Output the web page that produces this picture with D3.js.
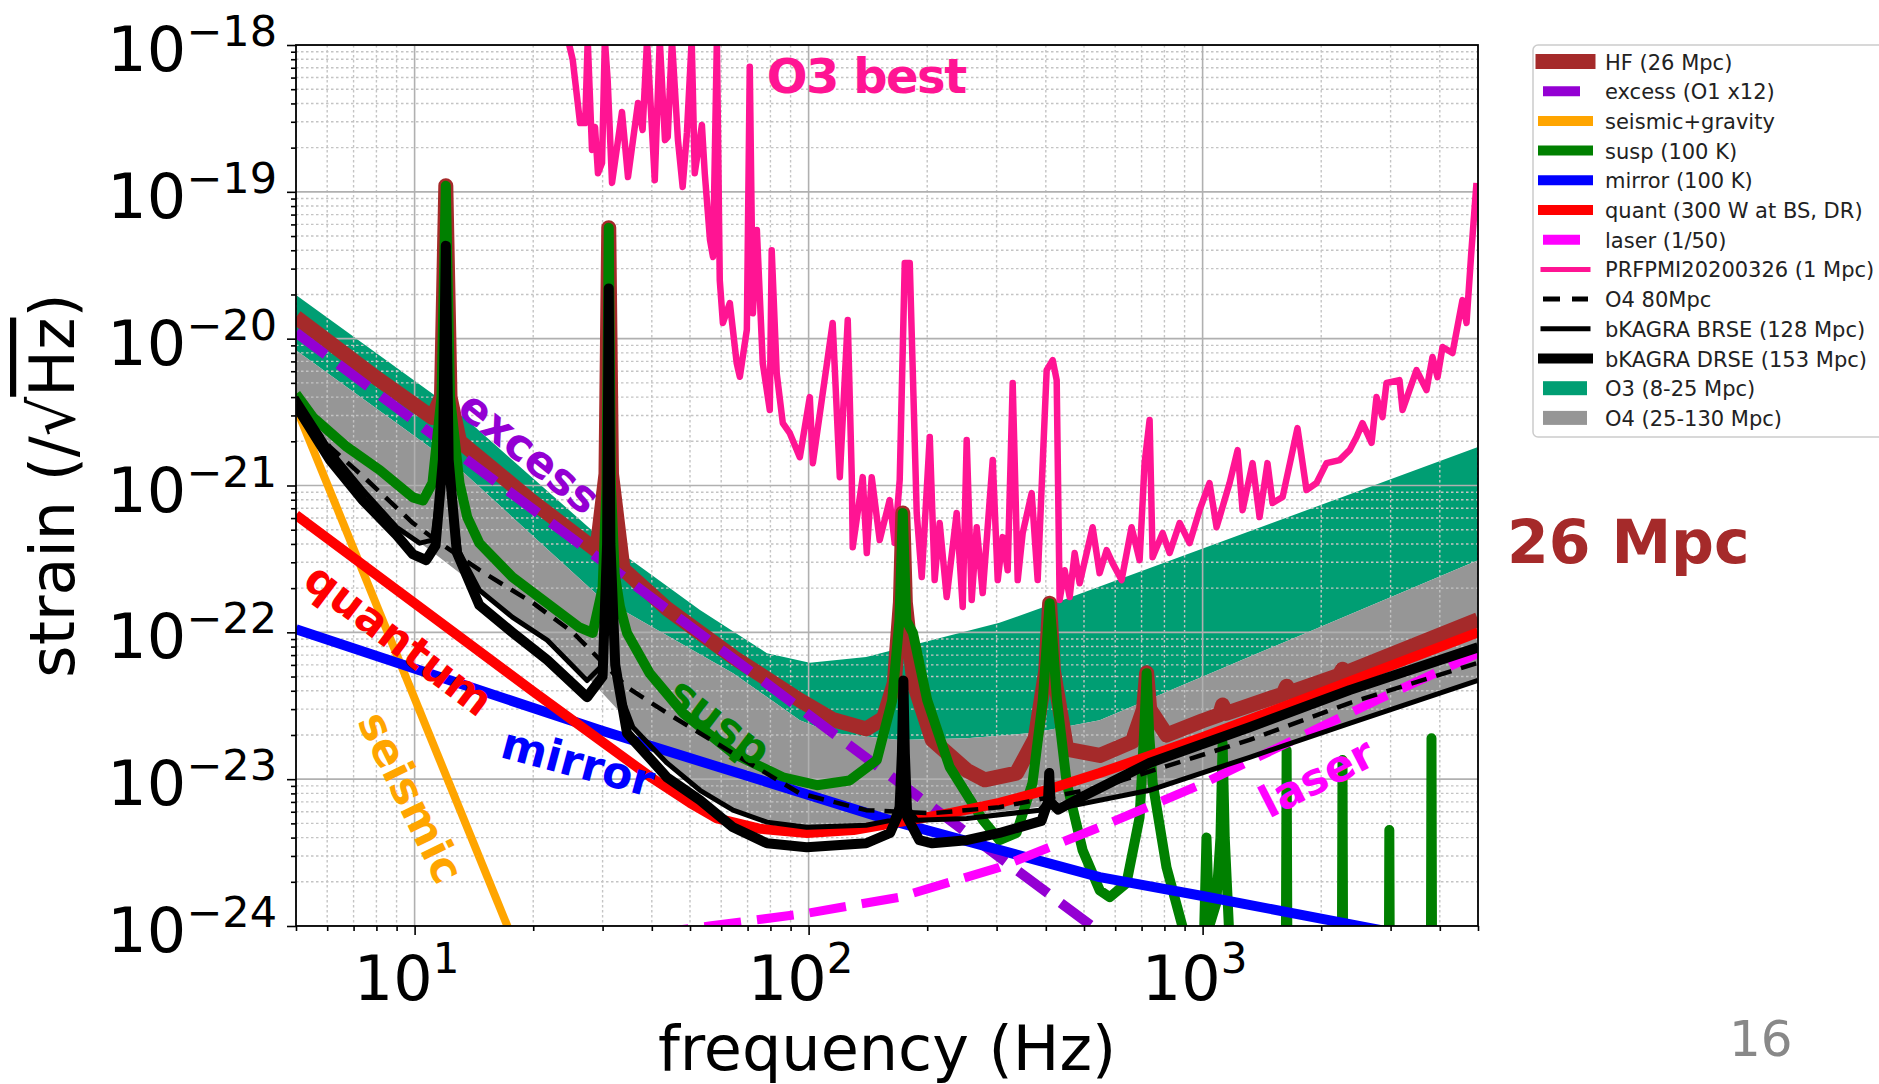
<!DOCTYPE html>
<html>
<head>
<meta charset="utf-8">
<title>bKAGRA noise budget</title>
<script src="https://cdn.jsdelivr.net/npm/d3@7/dist/d3.min.js"></script>
<style>
body { margin: 0; background: white; }
text { font-family: "DejaVu Sans", sans-serif; }
.grid-major { stroke: #b0b0b0; stroke-width: 1.6; }
.grid-minor { stroke: #c4c4c4; stroke-width: 1.4; stroke-dasharray: 2.5,2.5; }
.curve { fill: none; stroke-linejoin: round; }
.axis line { stroke: black; stroke-width: 1.6; }
.curve-label { font-weight: bold; font-size: 44px; }
.legend-text { font-size: 21px; fill: #222; }
</style>
</head>
<body>
<div id="chart"></div>
<script>
// ---- data (frequency in Hz, strain in 1/sqrt(Hz)) ----
const freqTicks = [10, 100, 1000];
const strainTicks = [1e-24, 1e-23, 1e-22, 1e-21, 1e-20, 1e-19, 1e-18];

const hfNoise = [[5,1.4e-20],[8,5.4e-21],[11.1,2.9e-21],[11.7,4e-21],[12.0,1.1e-19],[12.3,4e-21],[13.0,2.0e-21],
  [20,7.7e-22],[29.0,3.6e-22],[30.6,1.2e-21],[31.1,5.7e-20],[31.6,1.2e-21],[33.8,2.7e-22],[43.7,1.45e-22],
  [64.3,6.8e-23],[95,3.45e-23],[115,2.55e-23],[140,2.2e-23],[155,2.6e-23],[165,4.5e-23],[171,1.6e-22],
  [173.4,6.5e-22],[176,1.6e-22],[185,4.5e-23],[206,1.85e-23],[252,1.15e-23],[280,9.9e-24],[337,1.1e-23],
  [376,1.9e-23],[400,5.5e-23],[409,1.58e-22],[418,5.5e-23],[452,1.6e-23],[548,1.45e-23],[663,1.8e-23],
  [708,3e-23],[721,5.3e-23],[734,3e-23],[810,2e-23],[1000,2.5e-23],[1105,2.75e-23],[1124,3.2e-23],
  [1145,2.8e-23],[1600,3.8e-23],[1634,4.3e-23],[1670,3.9e-23],[2220,5.1e-23],[2265,5.6e-23],[2310,5.3e-23],
  [5000,1.22e-22]];

const excessNoise = [[5,1.1e-20],[600,7.6e-25]];

const seismicNoise = [[5,3.4e-21],[18,7.4e-25]];

const suspNoise = [[5,4.2e-21],[5.52,2.92e-21],[6.73,1.83e-21],[8.17,1.27e-21],[9.9,8.3e-22],[10.5,7.9e-22],
  [11.1,1.04e-21],[11.7,4e-21],[12.0,1.1e-19],[12.3,4e-21],[13.0,1.04e-21],[13.6,6.1e-22],[14.6,4.05e-22],
  [17.7,2.38e-22],[21.7,1.58e-22],[26.2,1.08e-22],[28.3,9.9e-23],[30.0,2e-22],[30.7,1e-21],[31.1,5.7e-20],
  [31.5,1e-21],[32.2,2.5e-22],[33.2,1.5e-22],[34.6,9.9e-23],[39.5,5.27e-23],[48,2.82e-23],[64.3,1.5e-23],
  [86,1.03e-23],[105,9.1e-24],[127,9.8e-24],[149,1.35e-23],[163,3.45e-23],[170,1.2e-22],[173.4,6.5e-22],
  [177,1.2e-22],[184,9.9e-23],[200,3.45e-23],[228,1.21e-23],[277,5.26e-24],[305,3.84e-24],[337,4.3e-24],
  [370,9.4e-24],[393,3.45e-23],[403,9e-23],[409,1.58e-22],[416,9e-23],[427,3.45e-23],[452,9.4e-24],
  [496,3.28e-24],[548,1.75e-24],[581,1.57e-24],[641,1.96e-24],[692,5.5e-24],[710,2e-23],[721,5.27e-23],
  [732,2e-23],[747,9.4e-24],[810,2.5e-24],[890,9.8e-25],[960,4e-25],[1005,6e-25],[1023,4.0e-24],
  [1040,1.0e-24],[1083,1.43e-24],[1110,4e-24],[1124,1.76e-23],[1138,4e-24],[1180,5e-25],[1625,3e-25],
  [1634,1.57e-23],[1643,3e-25],[2255,3e-25],[2265,1.35e-23],[2275,3e-25],[2968,3e-25],[2978,4.5e-24],
  [2988,3e-25],[3795,3e-25],[3810,1.9e-23],[3825,3e-25],[5000,3e-25]];

const mirrorNoise = [[5,1.05e-22],[29.5,2.16e-23],[160.6,5.26e-24],[548,2.15e-24],[1000,1.6e-24],
  [2455,1.01e-24],[5000,7e-25]];

const quantNoise = [[5,6.3e-22],[10,1.58e-22],[20,3.95e-23],[29.5,1.85e-23],[40,1.02e-23],[50,6.9e-24],
  [58.5,5.4e-24],[75,4.6e-24],[99,4.3e-24],[130,4.5e-24],[170,5.1e-24],[230,5.9e-24],[305,6.9e-24],
  [400,8.4e-24],[548,1.1e-23],[1000,1.93e-23],[2000,3.9e-23],[5000,1.0e-22]];

const laserNoise = [[40,8.9e-25],[56,1e-24],[99,1.22e-24],[170,1.57e-24],[305,2.51e-24],[548,4.71e-24],
  [982,9.1e-24],[2860,3.6e-23],[5000,7.2e-23]];

const prfpmi = [[24.2,1.26e-18],[25.2,7.9e-19],[26.3,2.94e-19],[27.1,2.94e-19],[27.5,1.08e-18],[28.2,1.93e-19],
  [28.7,2.76e-19],[29.2,1.34e-19],[29.9,1.57e-19],[30.4,1.08e-18],[30.9,5.8e-19],[31.7,1.15e-19],[33.6,3.5e-19],
  [34.8,1.26e-19],[36.9,4.03e-19],[37.9,2.64e-19],[38.9,1.08e-18],[40.7,1.2e-19],[41.9,1.08e-18],[43.2,2.25e-19],
  [43.9,2.36e-19],[45.0,1.08e-18],[46.6,2.25e-19],[47.9,1.08e-19],[49.1,2.52e-19],[50.5,1.08e-18],[51.4,1.34e-19],
  [53.6,2.85e-19],[54.5,1.34e-19],[56.2,4.7e-20],[57.2,3.6e-20],[58.5,1.08e-18],[59.5,2.5e-20],[60.6,1.28e-20],
  [63.1,1.75e-20],[65.7,6.8e-21],[66.9,5.5e-21],[69.7,1.15e-20],[70.9,7.1e-19],[72.2,1.49e-20],[73.9,5.5e-20],
  [76.5,6.8e-21],[79.7,3.27e-21],[80.6,4.0e-20],[83.0,5.8e-21],[86.0,2.66e-21],[89.6,2.27e-21],[95.0,1.56e-21],
  [100.7,4.0e-21],[102.5,1.42e-21],[115.1,1.28e-20],[120.0,1.14e-21],[125.7,1.34e-20],[128.7,1.14e-21],
  [129.4,3.8e-22],[137.2,1.14e-21],[140.5,3.47e-22],[144.6,1.14e-21],[151.5,4.25e-22],[160.6,7.96e-22],
  [165.4,4.06e-22],[170.3,1.09e-21],[175.4,3.27e-20],[180.6,3.27e-20],[188.1,6.5e-22],[193.7,2.38e-22],
  [203.0,2.14e-21],[208.9,2.27e-22],[215.1,5.55e-22],[224.1,1.74e-22],[237.6,6.5e-22],[246.1,1.49e-22],
  [251.9,2.04e-21],[259.4,1.66e-22],[267.1,5.2e-22],[276.6,1.85e-22],[293.3,1.49e-21],[302.0,2.27e-22],
  [310.9,4.45e-22],[320.1,2.65e-22],[329.6,4.99e-21],[339.4,2.27e-22],[349.4,4.74e-22],[368.3,8.87e-22],
  [381.4,2.27e-22],[402.0,6.1e-21],[416.4,7.14e-21],[426.2,5.22e-21],[433.6,1.66e-22],[446.5,2.65e-22],
  [459.8,1.74e-22],[473.4,3.47e-22],[487.4,2.16e-22],[525.8,5.2e-22],[547.8,2.53e-22],[570.7,3.63e-22],
  [590.9,2.96e-22],[622.8,2.27e-22],[660.3,5.2e-22],[692.0,3.1e-22],[712.5,1.42e-21],[733.6,2.79e-21],
  [746.6,3.25e-22],[791.6,4.74e-22],[824.6,3.47e-22],[874.4,5.55e-22],[926.9,4.05e-22],[982.4,6.79e-22],
  [1041,1.04e-21],[1085,5.2e-22],[1171,1.04e-21],[1227,1.74e-21],[1263,6.79e-22],[1339,1.42e-21],
  [1395,6.1e-22],[1461,1.42e-21],[1505,7.6e-22],[1596,8.34e-22],[1741,2.46e-21],[1835,9.31e-22],
  [1946,1.04e-21],[2063,1.42e-21],[2226,1.49e-21],[2360,1.74e-21],[2459,2.14e-21],[2546,2.66e-21],
  [2684,1.95e-21],[2763,4.0e-21],[2861,2.92e-21],[2929,4.99e-21],[3160,5.22e-21],[3217,3.27e-21],
  [3491,6.1e-21],[3701,4.47e-21],[3832,7.5e-21],[3947,5.47e-21],[4064,8.77e-21],[4307,7.98e-21],
  [4566,1.83e-20],[4675,1.28e-20],[4813,4.02e-20],[4956,1.15e-19]];

const o4Target = [[5,3.6e-21],[6.1,1.83e-21],[7.57,1.09e-21],[9.9,5.55e-22],[11.6,4.05e-22],[14.6,2.66e-22],
  [20,1.58e-22],[25.2,1.0e-22],[34.6,4.23e-23],[43.7,2.82e-23],[64.3,1.5e-23],[95,8.0e-24],[140,6.15e-24],
  [206,5.86e-24],[305,6.44e-24],[548,8.8e-24],[1316,1.85e-23],[2360,3.3e-23],[5000,6.2e-23]];

const brseNoise = [[5,4.0e-21],[6.1,1.74e-21],[7.4,9.3e-22],[9.0,5.2e-22],[10.3,4.05e-22],[11.1,4.25e-22],
  [11.7,1.2e-21],[12.0,4.3e-20],[12.3,1.2e-21],[13.0,3.5e-22],[14.6,1.94e-22],[17.7,1.27e-22],[21.7,8.85e-23],
  [27.4,4.7e-23],[30.0,6e-23],[30.8,4e-22],[31.1,2.2e-20],[31.4,4e-22],[32.3,7e-23],[33.2,3.86e-23],
  [35.8,2.26e-23],[43.7,1.29e-23],[53,8.4e-24],[64.3,6.15e-24],[78.4,5.1e-24],[98.9,4.7e-24],[140,4.86e-24],
  [163,5.26e-24],[170,7e-24],[172.5,1.5e-23],[174,4.7e-23],[175.5,1.5e-23],[178,6.5e-24],[188,5.26e-24],
  [252,5.4e-24],[386,6.15e-24],[403,7e-24],[408,1.1e-23],[413,7e-24],[430,6.3e-24],[733,8.4e-24],
  [1316,1.41e-23],[2360,2.4e-23],[5000,4.7e-23]];

const drseNoise = [[5,3.5e-21],[6.1,1.49e-21],[7.4,7.9e-22],[9.0,4.6e-22],[9.9,3.4e-22],[10.7,3.1e-22],
  [11.3,3.9e-22],[11.8,1.5e-21],[12.0,4.3e-20],[12.2,1.5e-21],[12.8,3.5e-22],[14.6,1.53e-22],[17.7,1.0e-22],
  [21.7,6.5e-23],[27.4,3.62e-23],[30.0,5e-23],[30.8,4e-22],[31.1,2.2e-20],[31.4,4e-22],[32.3,6e-23],
  [34.6,2.06e-23],[43.7,1.03e-23],[53,7.2e-24],[64.3,4.7e-24],[78.4,3.66e-24],[98.9,3.44e-24],[140,3.66e-24],
  [161,4.3e-24],[170,6e-24],[172.5,1.5e-23],[174,4.7e-23],[175.5,1.5e-23],[178,5.5e-24],[191,3.84e-24],
  [206,3.66e-24],[252,3.84e-24],[305,4.3e-24],[390,5.2e-24],[405,7e-24],[408,1.1e-23],[411,7e-24],
  [430,6.2e-24],[495,7.6e-24],[733,1.29e-23],[1316,2.26e-23],[2360,4.04e-23],[5000,7.9e-23]];

// bands: O3 (8-25 Mpc), O4 (25-130 Mpc)
const o3Upper = [[5,1.98e-20],[13,3.1e-21],[29.5,4.45e-22],[53,1.42e-22],[78.4,7.2e-23],[100.7,6.2e-23],
  [140,6.8e-23],[206,8.85e-23],[305,1.16e-22],[427,1.6e-22],[548,2.05e-22],[5000,1.83e-21]];
const o3Lower = [[5,8.35e-21],[13,1.3e-21],[29.5,1.74e-22],[64.3,5.27e-23],[95,2.52e-23],[115,2.06e-23],
  [170,1.85e-23],[252,1.9e-23],[370,2.06e-23],[548,2.52e-23],[5000,3.1e-22]];
const o4Lower = [[5,3.6e-21],[6.1,1.7e-21],[7.4,9.5e-22],[9,5.3e-22],[11,3.6e-22],[14.6,2.0e-22],[17.7,1.3e-22],
  [21.7,9e-23],[27.4,5e-23],[35.8,2.3e-23],[43.7,1.3e-23],[53,8.5e-24],[64.3,6.2e-24],[78.4,5.1e-24],
  [99,4.7e-24],[140,4.8e-24],[200,5.2e-24],[305,6.0e-24],[548,7.3e-24],[733,8.6e-24],[1316,1.41e-23],
  [2360,2.4e-23],[5000,4.7e-23]];

const legendLabels = ['HF (26 Mpc)', 'excess (O1 x12)', 'seismic+gravity', 'susp (100 K)', 'mirror (100 K)',
  'quant (300 W at BS, DR)', 'laser (1/50)', 'PRFPMI20200326 (1 Mpc)', 'O4 80Mpc', 'bKAGRA BRSE (128 Mpc)',
  'bKAGRA DRSE (153 Mpc)', 'O3 (8-25 Mpc)', 'O4 (25-130 Mpc)'];

// curve annotations, anchored in data coordinates
const annotations = [
  {text: 'excess',  at: [19.6, 1.69e-21], angle: 39,  color: '#9400d3'},
  {text: 'quantum', at: [9.13, 8.99e-23], angle: 37,  color: '#ff0000'},
  {text: 'seismic', at: [9.79, 7.54e-24], angle: 64,  color: '#ffa500'},
  {text: 'mirror',  at: [26.0, 1.31e-23], angle: 15,  color: '#0000ff'},
  {text: 'susp',    at: [59.5, 2.48e-23], angle: 37,  color: '#008000'},
  {text: 'laser',   at: [1945, 1.03e-23], angle: -27, color: '#ff00ff'}
];

// ---- layout ----
const W = 1879, H = 1084;
const pLeft = 296, pRight = 1478, pTop = 45, pBottom = 926;

const x = d3.scaleLog().domain([5, 5000]).range([pLeft, pRight]);
const y = d3.scaleLog().domain([1e-24, 1e-18]).range([pBottom, pTop]);
const isMajor = t => Math.abs(Math.log10(t) - Math.round(Math.log10(t))) < 1e-6;

const svg = d3.select('#chart').append('svg')
  .attr('width', W).attr('height', H)
  .style('background', 'white');

svg.append('defs').append('clipPath').attr('id', 'plotclip')
  .append('rect')
  .attr('x', pLeft).attr('y', pTop)
  .attr('width', pRight - pLeft).attr('height', pBottom - pTop);

const line = d3.line().x(d => x(d[0])).y(d => y(d[1]));
const plot = svg.append('g').attr('clip-path', 'url(#plotclip)');

// bands
function bandPath(upper, lower) {
  return line(upper.concat(lower.slice().reverse())) + 'Z';
}
plot.append('path').attr('d', bandPath(o3Upper, o3Lower)).attr('fill', '#009e73');
plot.append('path').attr('d', bandPath(o3Lower, o4Lower)).attr('fill', '#969696');

// grid
const xMinor = x.ticks().filter(t => !isMajor(t));
const yMinor = y.ticks().filter(t => !isMajor(t));
const grid = plot.append('g');
grid.selectAll('.gxm').data(xMinor).enter().append('line')
  .attr('class', 'grid-minor')
  .attr('x1', d => x(d)).attr('x2', d => x(d)).attr('y1', pTop).attr('y2', pBottom);
grid.selectAll('.gym').data(yMinor).enter().append('line')
  .attr('class', 'grid-minor')
  .attr('y1', d => y(d)).attr('y2', d => y(d)).attr('x1', pLeft).attr('x2', pRight);
grid.selectAll('.gxM').data(freqTicks).enter().append('line')
  .attr('class', 'grid-major')
  .attr('x1', d => x(d)).attr('x2', d => x(d)).attr('y1', pTop).attr('y2', pBottom);
grid.selectAll('.gyM').data(strainTicks).enter().append('line')
  .attr('class', 'grid-major')
  .attr('y1', d => y(d)).attr('y2', d => y(d)).attr('x1', pLeft).attr('x2', pRight);

// curves (measured spectrum first, budget on top)
function curve(data, color, width, dash) {
  const p = plot.append('path')
    .datum(data)
    .attr('class', 'curve')
    .attr('d', line)
    .attr('stroke', color)
    .attr('stroke-width', width);
  if (dash) p.attr('stroke-dasharray', dash);
  return p;
}
curve(prfpmi, '#ff1493', 6.5);
curve(hfNoise, '#a52a2a', 15);
curve(excessNoise, '#9400d3', 10, '37,16');
curve(seismicNoise, '#ffa500', 8);
curve(suspNoise, '#008000', 10);
curve(mirrorNoise, '#0000ff', 10);
curve(quantNoise, '#ff0000', 10);
curve(laserNoise, '#ff00ff', 9, '37,16');
curve(o4Target, '#000000', 4.5, '16,10');
curve(brseNoise, '#000000', 5);
curve(drseNoise, '#000000', 10);

// axes
svg.append('g').attr('class', 'axis')
  .attr('transform', `translate(0,${pBottom})`)
  .call(d3.axisBottom(x).tickValues(freqTicks).tickSize(9).tickFormat(''))
  .call(g => g.select('.domain').remove());
svg.append('g').attr('class', 'axis')
  .attr('transform', `translate(0,${pBottom})`)
  .call(d3.axisBottom(x).tickValues(xMinor).tickSize(5).tickFormat(''))
  .call(g => g.select('.domain').remove());
svg.append('g').attr('class', 'axis')
  .attr('transform', `translate(${pLeft},0)`)
  .call(d3.axisLeft(y).tickValues(strainTicks).tickSize(9).tickFormat(''))
  .call(g => g.select('.domain').remove());
svg.append('g').attr('class', 'axis')
  .attr('transform', `translate(${pLeft},0)`)
  .call(d3.axisLeft(y).tickValues(yMinor).tickSize(5).tickFormat(''))
  .call(g => g.select('.domain').remove());

svg.append('rect')
  .attr('x', pLeft).attr('y', pTop)
  .attr('width', pRight - pLeft).attr('height', pBottom - pTop)
  .attr('fill', 'none').attr('stroke', 'black').attr('stroke-width', 1.8);

// tick labels
freqTicks.forEach(t => {
  const txt = svg.append('text')
    .attr('x', x(t) - 8).attr('y', 1000)
    .attr('text-anchor', 'middle')
    .attr('font-size', 62);
  txt.append('tspan').text('10');
  txt.append('tspan').attr('dy', -27).attr('font-size', 42).text(Math.round(Math.log10(t)));
});
strainTicks.forEach(t => {
  const txt = svg.append('text')
    .attr('x', 277).attr('y', y(t) + 26)
    .attr('text-anchor', 'end')
    .attr('font-size', 62);
  txt.append('tspan').text('10');
  txt.append('tspan').attr('dy', -25).attr('font-size', 43).text('\u2212' + Math.abs(Math.round(Math.log10(t))));
});

// axis titles
svg.append('text')
  .attr('x', (pLeft + pRight) / 2).attr('y', 1070)
  .attr('text-anchor', 'middle').attr('font-size', 62)
  .text('frequency (Hz)');

const ylab = svg.append('text')
  .attr('transform', `translate(74,${(pTop + pBottom) / 2}) rotate(-90)`)
  .attr('text-anchor', 'middle').attr('font-size', 62);
ylab.append('tspan').text('strain (/\u221A');
ylab.append('tspan').style('text-decoration', 'overline').text('Hz');
ylab.append('tspan').text(')');

// annotations inside the plot
annotations.forEach(a => {
  svg.append('text')
    .attr('class', 'curve-label')
    .attr('transform', `translate(${x(a.at[0])},${y(a.at[1])}) rotate(${a.angle})`)
    .attr('text-anchor', 'middle')
    .attr('dominant-baseline', 'central')
    .attr('fill', a.color)
    .text(a.text);
});

svg.append('text')
  .attr('x', x(78.3)).attr('y', y(4.71e-19))
  .attr('font-family', '"Noto Sans CJK JP", "Open Sans", sans-serif')
  .attr('font-weight', 'bold').attr('font-size', 48)
  .attr('letter-spacing', -1.5)
  .attr('fill', '#ff1493')
  .text('O3 best');

svg.append('text')
  .attr('x', 1507).attr('y', 563)
  .attr('font-weight', 'bold').attr('font-size', 60)
  .attr('fill', '#a52a2a')
  .text('26 Mpc');

svg.append('text')
  .attr('x', 1729).attr('y', 1056)
  .attr('font-family', '"Liberation Sans", Arial, sans-serif')
  .attr('font-size', 50).attr('fill', '#888')
  .text('16');

// legend
const legendStyle = [
  {color: '#a52a2a', w: 15},
  {color: '#9400d3', w: 10, dash: '37,16'},
  {color: '#ffa500', w: 10},
  {color: '#008000', w: 10},
  {color: '#0000ff', w: 10},
  {color: '#ff0000', w: 10},
  {color: '#ff00ff', w: 10, dash: '37,16'},
  {color: '#ff1493', w: 5},
  {color: '#000000', w: 5, dash: '17,12'},
  {color: '#000000', w: 5},
  {color: '#000000', w: 10},
  {color: '#009e73', patch: true},
  {color: '#969696', patch: true}
];

const legend = svg.append('g');
legend.append('rect')
  .attr('x', 1533).attr('y', 45)
  .attr('width', 380).attr('height', 392)
  .attr('rx', 5)
  .attr('fill', 'white').attr('stroke', '#cccccc').attr('stroke-width', 1.5);

legendLabels.forEach((label, i) => {
  const cy = 61.5 + i * 29.7;
  const s = legendStyle[i];
  if (s.patch) {
    legend.append('rect')
      .attr('x', 1543).attr('y', cy - 7)
      .attr('width', 44).attr('height', 14)
      .attr('fill', s.color);
  } else {
    const l = legend.append('line')
      .attr('x1', 1543).attr('x2', 1588)
      .attr('y1', cy).attr('y2', cy)
      .attr('stroke', s.color).attr('stroke-width', s.w)
      .attr('stroke-linecap', s.dash ? 'butt' : 'square');
    if (s.dash) l.attr('stroke-dasharray', s.dash);
  }
  legend.append('text')
    .attr('class', 'legend-text')
    .attr('x', 1605).attr('y', cy + 8)
    .text(label);
});
</script>
</body>
</html>
